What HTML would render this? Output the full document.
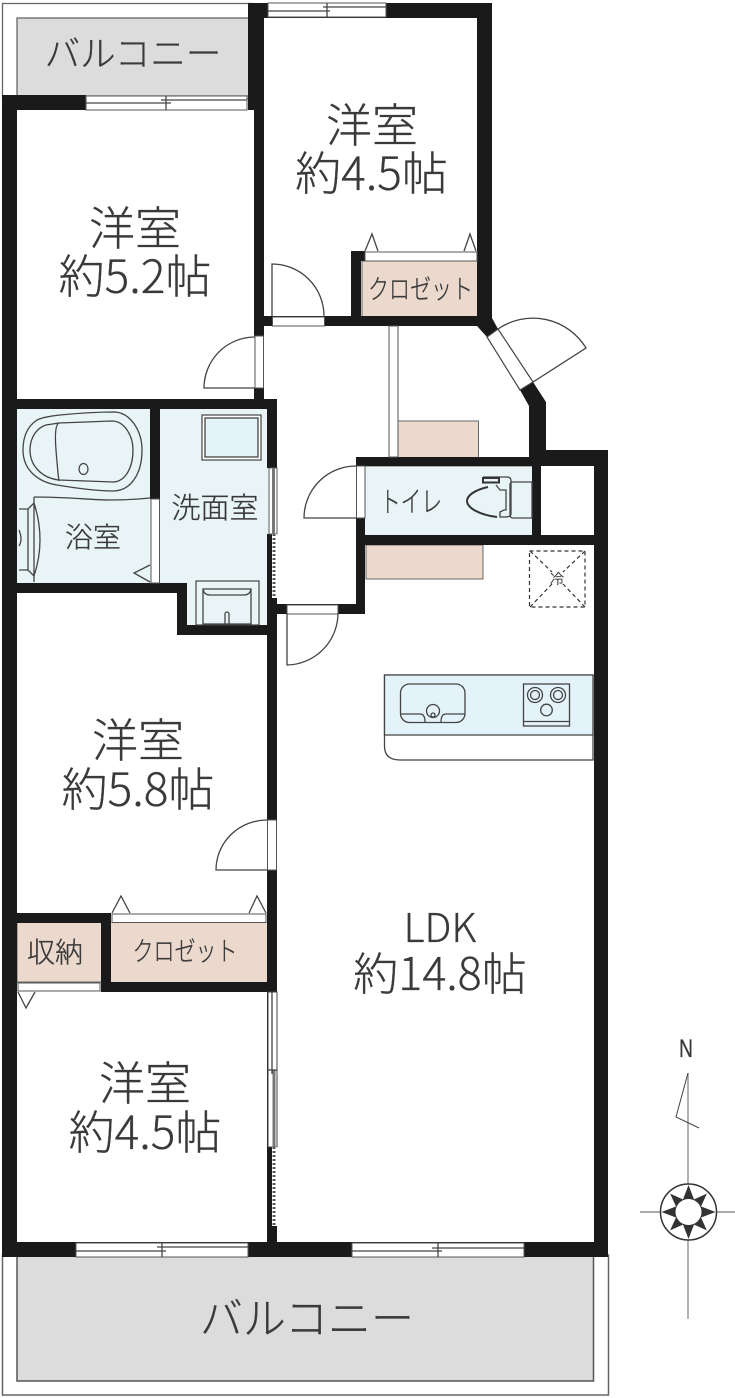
<!DOCTYPE html>
<html><head><meta charset="utf-8"><style>
html,body{margin:0;padding:0;background:#fff}
svg{display:block}
text{font-family:"Noto Sans CJK JP","Liberation Sans",sans-serif;font-weight:300;fill:#3a3a3a;stroke:#3a3a3a;stroke-width:.3;text-anchor:middle}
.t{fill:none;stroke:#444;stroke-width:1.3}
.w{fill:#fff;stroke:#555;stroke-width:1}
</style></head><body>
<svg width="735" height="1398" viewBox="0 0 735 1398" xmlns="http://www.w3.org/2000/svg">
<rect width="735" height="1398" fill="#fff"/>
<!-- balcony top -->
<rect x="2.500" y="3.500" width="250" height="95" fill="#fff" stroke="#666" stroke-width="1.300"/>
<rect x="17" y="18" width="233" height="78" fill="#dcdcdc" stroke="#666" stroke-width="1.300"/>
<!-- balcony bottom -->
<rect x="2.500" y="1255" width="606" height="140" fill="#fff" stroke="#666" stroke-width="1.500"/>
<rect x="17" y="1255" width="576.500" height="126" fill="#dcdcdc" stroke="#555" stroke-width="1.500"/>
<!-- fills -->
<rect x="17" y="409" width="134" height="174" fill="#e9f4f7"/>
<path d="M160 409H268V625H187V583H160Z" fill="#e9f4f7"/>
<rect x="364" y="466" width="169" height="70" fill="#e9f4f7" stroke="#666"/>
<rect x="362" y="261" width="116" height="56" fill="#ecd9cd" stroke="#666"/>
<rect x="398" y="421" width="80.500" height="37" fill="#ecd9cd" stroke="#666"/>
<rect x="366" y="545" width="117" height="34" fill="#ecd9cd" stroke="#666"/>
<rect x="17" y="922" width="85" height="60" fill="#ecd9cd" stroke="#666"/>
<rect x="111" y="922" width="157" height="61" fill="#ecd9cd"/>
<!-- walls -->
<g fill="#1a1a1a">
<rect x="2" y="95" width="15" height="1162"/>
<rect x="2" y="95" width="84" height="15"/>
<rect x="248" y="3" width="16" height="107"/>
<rect x="254" y="110" width="10" height="226"/>
<rect x="248" y="3" width="244" height="15"/>
<rect x="477" y="3" width="15" height="323"/>
<rect x="351" y="251" width="10" height="70"/>
<rect x="351" y="251" width="14" height="10"/>
<rect x="254" y="316" width="238" height="10"/>
<path d="M477 326L487 337L498 329L492 318L477 316Z"/>
<path d="M520 390L533 382L546 402V458H529V406Z"/>
<rect x="529" y="450" width="79" height="16"/>
<rect x="594" y="450" width="14" height="807"/>
<rect x="356" y="457" width="190" height="9"/>
<rect x="532" y="457" width="9" height="88"/>
<rect x="356" y="535" width="238" height="10"/>
<rect x="356" y="457" width="9" height="157"/>
<rect x="267" y="604" width="98" height="10"/>
<rect x="254" y="388" width="10" height="12"/>
<rect x="17" y="399" width="260" height="10"/>
<rect x="267" y="399" width="10" height="69"/>
<rect x="150" y="399" width="10" height="100"/>
<rect x="17" y="583" width="170" height="10"/>
<rect x="177" y="583" width="10" height="52"/>
<rect x="177" y="625" width="100" height="10"/>
<rect x="267" y="534" width="10" height="70"/>
<rect x="267" y="604" width="10" height="653"/>
<rect x="17" y="913" width="94" height="10"/>
<rect x="101" y="913" width="10" height="79"/>
<rect x="101" y="982" width="176" height="10"/>
<rect x="2" y="1242" width="606" height="15"/>
</g>
<!-- openings -->
<g>
<rect x="86" y="96" width="161" height="14" class="w"/>
<path d="M86 103H171M161 100H247M166 96V110" class="t"/>
<rect x="268" y="3" width="118" height="14" class="w"/>
<path d="M268 11H330M323 7H386M327 3V17" class="t"/>
<rect x="76" y="1243" width="172" height="14" class="w"/>
<path d="M76 1251H166M157 1247H248M162 1243V1257" class="t"/>
<rect x="352" y="1243" width="172" height="14" class="w"/>
<path d="M352 1251H442M432 1248H524M438 1243V1257" class="t"/>
<rect x="272.500" y="317" width="52" height="9" class="w"/>
<rect x="255" y="336" width="8.500" height="52" class="w"/>
<rect x="356.500" y="466" width="8.500" height="52" class="w"/>
<rect x="287" y="605" width="51" height="9" class="w"/>
<rect x="267.500" y="820" width="9" height="50" class="w"/>
<rect x="151" y="499" width="8.500" height="84" class="w"/>
<rect x="389" y="326" width="9" height="131" class="w"/>
<path d="M487 337L498 329L533 382L520 390Z" fill="#fff" stroke="#444" stroke-width="1.200"/>
<!-- sliding doors -->
<rect x="269" y="468" width="8" height="66" fill="#fff" stroke="#555"/>
<rect x="272" y="468" width="3" height="66" fill="#777"/>
<rect x="272" y="534" width="5" height="64" fill="#fff"/>
<path d="M274 534V598" stroke="#555" stroke-width="3" stroke-dasharray="2 2"/>
<rect x="268" y="992" width="9" height="155" fill="#fff" stroke="#444"/>
<path d="M272 992V1074" stroke="#333" stroke-width="1.200"/>
<rect x="272.500" y="1070" width="3" height="77" fill="#777"/>
<rect x="272" y="1147" width="5" height="79" fill="#fff"/>
<path d="M274 1147V1226" stroke="#555" stroke-width="3" stroke-dasharray="2 2"/>
<path d="M268 1070H277" class="t"/>
<!-- closets folding -->
<rect x="365" y="252" width="112" height="9" class="w"/>
<rect x="112" y="914" width="154" height="8.500" class="w"/>
<rect x="18" y="983" width="82" height="8" class="w"/>
<path d="M365 251L372 234L378 251M464 251L470 234L476 251" class="t"/>
<path d="M112 913L121 896L130 913M249 913L257 896L266 913" class="t"/>
<path d="M18 992L26 1008L35 992" class="t"/>
</g>
<!-- doors -->
<path d="M272 316V264A52 52 0 0 1 324 316" class="t"/>
<path d="M255 337A51 51 0 0 0 204 388H255" class="t"/>
<path d="M356 466A52 52 0 0 0 304 518H356" class="t"/>
<path d="M287 613V665A52 52 0 0 0 338 613" class="t"/>
<path d="M267 820A51 50 0 0 0 216 870H267" class="t"/>
<path d="M533 382L586 348A62 62 0 0 0 498 329" class="t"/>
<!-- bath -->
<path d="M60 415C80 413 100 412 115 412C130 413 142 430 142 450C142 475 130 491 113 491C95 491 75 488 57 485C38 482 23 470 23 450C23 436 28 426 37 420C43 417 52 416 60 415Z" class="t"/>
<path d="M59 423L112 421C124 421 133 435 133 450C133 468 125 482 113 482L59 480C42 478 30 466 30 450C30 437 37 428 46 425Z" class="t"/>
<path d="M59 423Q54 425 56 450T59 481" class="t"/>
<ellipse cx="83.500" cy="469" rx="4.500" ry="5.500" class="t"/>
<path d="M34 497C70 497 90 500 110 500S140 499 150 498" class="t"/>
<path d="M34 497V582M19 509H28V570H19M28 509L34 503Q46 540 34 576L28 570M19 530Q23 540 19 546" class="t"/>
<path d="M150 565L134 573L150 582" class="t"/>
<!-- wash -->
<rect x="202" y="415" width="59" height="45" fill="#fff" stroke="#444" stroke-width="1.200"/>
<rect x="205" y="418" width="53" height="39" fill="#e4f3f9" stroke="#444" stroke-width="1.300"/>
<rect x="196" y="581" width="63" height="44" fill="#e9f4f7" stroke="#444" stroke-width="1.200"/>
<rect x="203" y="589" width="48" height="35" class="t"/>
<path d="M203 589Q204 595 210 595H244Q250 595 251 589" class="t"/>
<path d="M225 624V614a2 2 0 0 1 4 0V624" class="t"/>
<!-- toilet -->
<path d="M513 482H532V518H513Q510 518 510 515V485Q510 482 513 482Z" class="t"/>
<path d="M488 487C474 490 467 496 467 501C467 508 480 515 497 517" fill="none" stroke="#333" stroke-width="2"/>
<path d="M483 477H507Q511 477 511 481V514Q511 517 505 517H500V512L504 510H506V490H500L496 485" class="t"/>
<rect x="483" y="478" width="16" height="4.500" fill="#e9f4f7" stroke="#333" stroke-width="2"/>
<!-- kitchen -->
<path d="M384.500 735V746Q384.500 760 400 760H593V675H384.500Z" fill="#fff" stroke="#444" stroke-width="1.300"/>
<path d="M384.500 675H593V735H384.500Z" fill="#e4f3f9" stroke="#444" stroke-width="1.300"/>
<rect x="400.500" y="684" width="64.500" height="38.500" rx="9" class="t"/>
<circle cx="433" cy="711" r="6.500" class="t"/>
<circle cx="433" cy="715" r="2" class="t"/>
<path d="M401 714H420Q425 714 425 722M441 722Q441 714 446 714H465" class="t"/>
<rect x="523.500" y="684" width="46" height="42" class="t"/>
<path d="M523.500 721.500H569.500" class="t"/>
<circle cx="535" cy="695" r="7.500" class="t"/><circle cx="535" cy="695" r="4.500" class="t"/>
<circle cx="558" cy="695" r="7.500" class="t"/><circle cx="558" cy="695" r="4.500" class="t"/>
<circle cx="546.500" cy="710" r="5.800" class="t"/>
<!-- ceiling -->
<g fill="none" stroke="#333" stroke-width="1.200" stroke-dasharray="4 3">
<rect x="529.500" y="551" width="55.500" height="56"/>
<path d="M530 551L552 572M585 551L563 572M530 607L552 584M585 607L563 584"/>
</g>
<text x="557" y="584" font-size="14">冷</text>
<!-- labels -->
<text x="133" y="66" font-size="35.500">バルコニー</text>
<text x="372" y="142" font-size="46">洋室</text>
<text x="371.500" y="190" font-size="46">約4.5帖</text>
<text x="135" y="245" font-size="46">洋室</text>
<text x="135" y="293" font-size="46">約5.2帖</text>
<text x="420.500" y="299" font-size="27" textLength="105" lengthAdjust="spacingAndGlyphs">クロゼット</text>
<text x="93" y="547" font-size="28">浴室</text>
<text x="215" y="518" font-size="29">洗面室</text>
<text x="411" y="512" font-size="29" textLength="62" lengthAdjust="spacingAndGlyphs">トイレ</text>
<text x="138" y="757" font-size="46">洋室</text>
<text x="138" y="806" font-size="46">約5.8帖</text>
<text x="55" y="962" font-size="28">収納</text>
<text x="185" y="961" font-size="27" textLength="105" lengthAdjust="spacingAndGlyphs">クロゼット</text>
<text x="145" y="1100" font-size="46">洋室</text>
<text x="145" y="1149" font-size="46">約4.5帖</text>
<text x="440" y="942" font-size="40">LDK</text>
<text x="440" y="990" font-size="45">約14.8帖</text>
<text x="307" y="1334" font-size="43">バルコニー</text>
<text x="686" y="1057" font-size="25" textLength="14" lengthAdjust="spacingAndGlyphs" style="font-family:'Liberation Sans',sans-serif">N</text>
<!-- compass -->
<path d="M688 1073V1319" stroke="#888" stroke-width="1.300"/>
<path d="M640 1212H735" stroke="#555" stroke-width="1"/>
<path d="M688 1073L676 1117L699 1128" fill="none" stroke="#444" stroke-width="1"/>
<circle cx="688.500" cy="1212" r="28" fill="#fff" stroke="#333" stroke-width="1.500"/>
<g fill="#333" transform="translate(688.500 1212)">
<path d="M-6.500-10L0-27L6.500-10Z"/>
<path d="M-6.500-10L0-27L6.500-10Z" transform="rotate(90)"/>
<path d="M-6.500-10L0-27L6.500-10Z" transform="rotate(180)"/>
<path d="M-6.500-10L0-27L6.500-10Z" transform="rotate(270)"/>
<path d="M-6-10L0-26L6-10Z" transform="rotate(45)"/>
<path d="M-6-10L0-26L6-10Z" transform="rotate(135)"/>
<path d="M-6-10L0-26L6-10Z" transform="rotate(225)"/>
<path d="M-6-10L0-26L6-10Z" transform="rotate(315)"/>
<circle r="13" fill="#fff"/>
</g>
</svg>
</body></html>
